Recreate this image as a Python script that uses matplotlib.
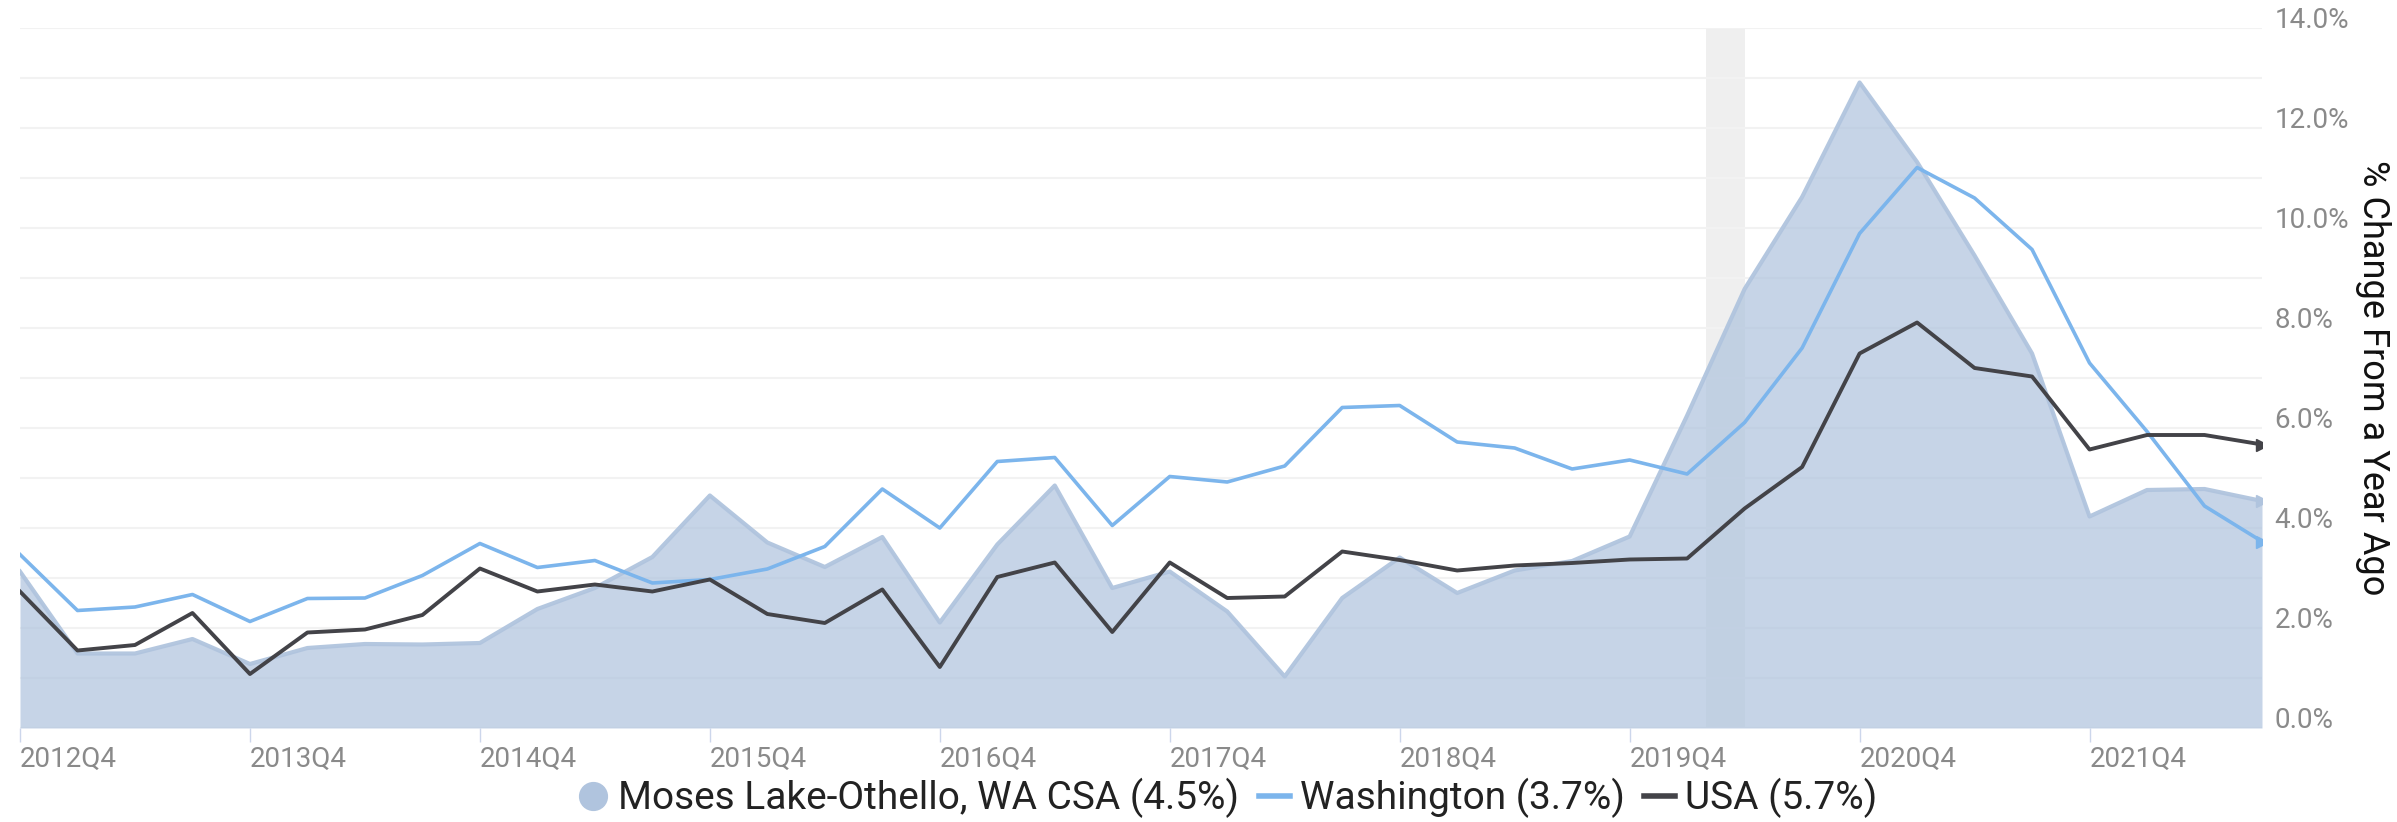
import numpy as np
import matplotlib.pyplot as plt
from matplotlib.lines import Line2D
from matplotlib.ticker import MultipleLocator

plt.rcParams['font.family'] = ['Roboto', 'DejaVu Sans']

# quarterly periods 2012Q4 .. 2022Q3
quarters = ['2012Q4'] + [f'{y}Q{q}' for y in range(2013, 2022) for q in range(1, 5)] + ['2022Q1', '2022Q2', '2022Q3']

moses = [3.13, 1.49, 1.49, 1.78, 1.28, 1.60, 1.68, 1.67, 1.70, 2.38,
         2.80, 3.42, 4.65, 3.71, 3.22, 3.82, 2.11, 3.67, 4.85, 2.80,
         3.13, 2.33, 1.03, 2.60, 3.41, 2.70, 3.15, 3.34, 3.83, 6.25,
         8.78, 10.62, 12.91, 11.32, 9.45, 7.49, 4.23, 4.76, 4.78, 4.54]
washington = [3.47, 2.35, 2.42, 2.67, 2.13, 2.59, 2.60, 3.05, 3.69, 3.21,
              3.35, 2.90, 2.97, 3.18, 3.63, 4.78, 4.00, 5.33, 5.41, 4.05,
              5.03, 4.92, 5.24, 6.41, 6.45, 5.72, 5.60, 5.18, 5.36, 5.08,
              6.11, 7.60, 9.89, 11.21, 10.60, 9.57, 7.30, 5.93, 4.44, 3.73]
usa = [2.73, 1.55, 1.66, 2.30, 1.08, 1.91, 1.97, 2.26, 3.19, 2.73,
       2.87, 2.73, 2.97, 2.28, 2.10, 2.77, 1.22, 3.02, 3.31, 1.92,
       3.31, 2.60, 2.63, 3.53, 3.36, 3.15, 3.25, 3.30, 3.37, 3.39,
       4.39, 5.22, 7.49, 8.11, 7.20, 7.03, 5.57, 5.86, 5.86, 5.67]

recession = ('2020-02', '2020-04')
legend_labels = ['Moses Lake-Othello, WA CSA (4.5%)', 'Washington (3.7%)', 'USA (5.7%)']


def month_to_pos(s):
    y, m = [int(v) for v in s.split('-')]
    q = (m - 1) // 3 + 1
    return quarters.index(f'{y}Q{q}') + ((m - 1) % 3) / 3.0


x = np.arange(len(quarters))
area_col = '#b0c4de'
wa_col = '#7cb5ec'
us_col = '#434348'

fig = plt.figure(figsize=(23.97, 8.22), dpi=100)
ax = fig.add_axes([20/2397, 1 - 728/822, (2262 - 20)/2397, 700/822])

ax.axvspan(month_to_pos(recession[0]), month_to_pos(recession[1]), color='#efefef', zorder=0, lw=0)

ax.fill_between(x, 0, moses, color=area_col, alpha=0.72, lw=0, zorder=2)
ax.plot(x, moses, color=area_col, lw=3, alpha=0.95, zorder=3, solid_joinstyle='round')
ax.plot(x, washington, color=wa_col, lw=2.6, zorder=4)
ax.plot(x, usa, color=us_col, lw=2.8, zorder=5)
# arrow heads at the end
ax.plot(x[-1], moses[-1], marker='>', color=area_col, ms=9, zorder=3)
ax.plot(x[-1], washington[-1], marker='>', color=wa_col, ms=9, zorder=4)
ax.plot(x[-1], usa[-1], marker='>', color=us_col, ms=9, zorder=5)

ax.set_xlim(0, len(quarters) - 1)
ax.set_ylim(0, 14)

ticks = [i for i, q in enumerate(quarters) if q.endswith('Q4')]
ax.set_xticks(ticks)
ax.set_xticklabels([quarters[i] for i in ticks])
for lbl in ax.get_xticklabels():
    lbl.set_ha('left')
ax.tick_params(axis='x', length=10, width=1, color='#ccd6eb', labelsize=20,
               labelcolor='#8a8a8a', pad=3)

ax.yaxis.tick_right()
ax.yaxis.set_major_locator(MultipleLocator(2))
ax.yaxis.set_minor_locator(MultipleLocator(1))
ax.set_yticklabels([f'{v:.1f}%' for v in ax.get_yticks()])
for lbl in ax.get_yticklabels():
    lbl.set_va('baseline')
ax.tick_params(axis='y', which='both', length=0, labelsize=20, labelcolor='#8a8a8a', pad=9)
ax.grid(axis='y', which='both', color='#f2f2f2', lw=1.5, zorder=1)
ax.set_axisbelow(True)

ax.yaxis.set_label_position('right')
ax.set_ylabel('% Change From a Year Ago', rotation=270, fontsize=26, labelpad=30, color='#111')

for s in ax.spines.values():
    s.set_visible(False)

handles = [Line2D([], [], marker='o', ls='none', color=area_col, ms=20),
           Line2D([], [], color=wa_col, lw=4),
           Line2D([], [], color=us_col, lw=4)]
fig.legend(handles, legend_labels, loc='center', bbox_to_anchor=(0.512, 1 - 798/822),
           ncol=3, frameon=False, fontsize=28, handlelength=0.8, handletextpad=0.25,
           columnspacing=0.5, labelcolor='#222')

fig.savefig('out.png', dpi=100)
